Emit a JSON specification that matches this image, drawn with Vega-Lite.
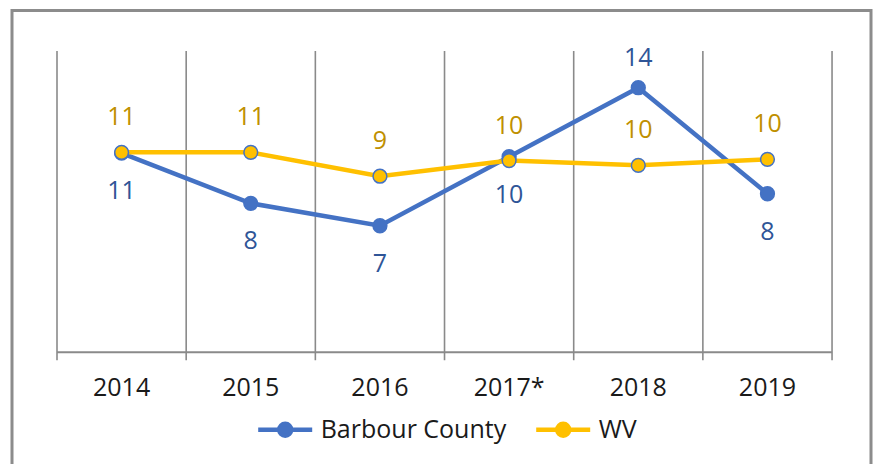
{
  "$schema": "https://vega.github.io/schema/vega-lite/v6.json",
  "width": 859,
  "height": 455.5,
  "autosize": {"type": "none"},
  "padding": {"left": 12, "top": 10.5, "right": 2, "bottom": -2},
  "background": "white",
  "config": {
    "view": {"stroke": "#8c8c8c", "strokeWidth": 3},
    "font": "Open Sans",
    "axisX": {"domain": false, "ticks": false, "grid": false, "labelAngle": 0, "labelFontSize": 25, "labelFont": "Open Sans", "labelColor": "#1a1a1a", "labelPadding": 23, "offset": -113.7, "title": null}
  },
  "data": {
    "values": [
      {"year": "2014", "series": "Barbour County", "value": 10.58},
      {"year": "2015", "series": "Barbour County", "value": 7.91},
      {"year": "2016", "series": "Barbour County", "value": 6.72},
      {"year": "2017*", "series": "Barbour County", "value": 10.39},
      {"year": "2018", "series": "Barbour County", "value": 14.05},
      {"year": "2019", "series": "Barbour County", "value": 8.42},
      {"year": "2014", "series": "WV", "value": 10.62},
      {"year": "2015", "series": "WV", "value": 10.62},
      {"year": "2016", "series": "WV", "value": 9.35},
      {"year": "2017*", "series": "WV", "value": 10.18},
      {"year": "2018", "series": "WV", "value": 9.93},
      {"year": "2019", "series": "WV", "value": 10.25}
    ]
  },
  "layer": [
    {
      "transform": [{"filter": "datum.series == 'WV'"}],
      "mark": {"type": "rule", "color": "#8a8a8a", "strokeWidth": 1.6},
      "encoding": {
        "x": {"field": "year", "type": "ordinal", "bandPosition": 0, "scale": {"paddingInner": 0, "paddingOuter": 0.325, "align": 0.536}},
        "y": {"datum": 16, "type": "quantitative", "scale": {"domain": [-6.038, 18.151], "nice": false, "zero": false}, "axis": null},
        "y2": {"datum": -0.425}
      }
    },
    {
      "transform": [{"filter": "datum.series == 'WV' && datum.year == '2019'"}],
      "mark": {"type": "rule", "color": "#8a8a8a", "strokeWidth": 1.6},
      "encoding": {
        "x": {"field": "year", "type": "ordinal", "bandPosition": 1},
        "y": {"datum": 16, "type": "quantitative"},
        "y2": {"datum": -0.425}
      }
    },
    {
      "transform": [{"filter": "datum.series == 'WV'"}],
      "mark": {"type": "rect", "fill": null, "stroke": "#8a8a8a", "strokeWidth": 2},
      "encoding": {
        "x": {"field": "year", "type": "ordinal"},
        "y": {"datum": 0, "type": "quantitative"},
        "y2": {"datum": 0}
      }
    },
    {
      "mark": {"type": "line", "strokeWidth": 4.5},
      "encoding": {
        "x": {"field": "year", "type": "ordinal"},
        "y": {"field": "value", "type": "quantitative"},
        "color": {
          "field": "series", "type": "nominal",
          "scale": {"domain": ["Barbour County", "WV"], "range": ["#4472C4", "#FFC000"]},
          "legend": {
            "orient": "none", "legendX": 243.7, "legendY": 389.5, "direction": "horizontal",
            "title": null, "padding": 0,
            "symbolType": "M-1,0L1,0M-0.22,0A0.22,0.22,0,1,1,0.22,0A0.22,0.22,0,1,1,-0.22,0Z",
            "symbolSize": 2916, "symbolStrokeWidth": 4.5,
            "labelFontSize": 25, "labelFont": "Open Sans", "labelColor": "#1a1a1a", "labelLimit": 0,
            "labelOffset": 6, "columnPadding": 20,
            "encode": {"symbols": {"update": {"fill": {"scale": "color", "field": "value"}, "opacity": {"value": 1}}}}
          }
        }
      }
    },
    {
      "mark": {"type": "point", "filled": true, "size": 190, "stroke": "#4472C4", "strokeWidth": 1.5, "opacity": 1},
      "encoding": {
        "x": {"field": "year", "type": "ordinal"},
        "y": {"field": "value", "type": "quantitative"},
        "fill": {"field": "series", "type": "nominal", "scale": {"domain": ["Barbour County", "WV"], "range": ["#4472C4", "#FFC000"]}, "legend": null}
      }
    },
    {
      "transform": [{"filter": "datum.series == 'WV'"}],
      "mark": {"type": "text", "dy": -35, "fontSize": 25, "color": "#BF9000", "font": "Open Sans"},
      "encoding": {
        "x": {"field": "year", "type": "ordinal"},
        "y": {"field": "value", "type": "quantitative"},
        "text": {"field": "value", "type": "quantitative", "format": ".0f"}
      }
    },
    {
      "transform": [{"filter": "datum.series == 'Barbour County' && datum.year != '2018'"}],
      "mark": {"type": "text", "dy": 38, "fontSize": 25, "color": "#2F5597", "font": "Open Sans"},
      "encoding": {
        "x": {"field": "year", "type": "ordinal"},
        "y": {"field": "value", "type": "quantitative"},
        "text": {"field": "value", "type": "quantitative", "format": ".0f"}
      }
    },
    {
      "transform": [{"filter": "datum.series == 'Barbour County' && datum.year == '2018'"}],
      "mark": {"type": "text", "dy": -30, "fontSize": 25, "color": "#2F5597", "font": "Open Sans"},
      "encoding": {
        "x": {"field": "year", "type": "ordinal"},
        "y": {"field": "value", "type": "quantitative"},
        "text": {"field": "value", "type": "quantitative", "format": ".0f"}
      }
    }
  ]
}
